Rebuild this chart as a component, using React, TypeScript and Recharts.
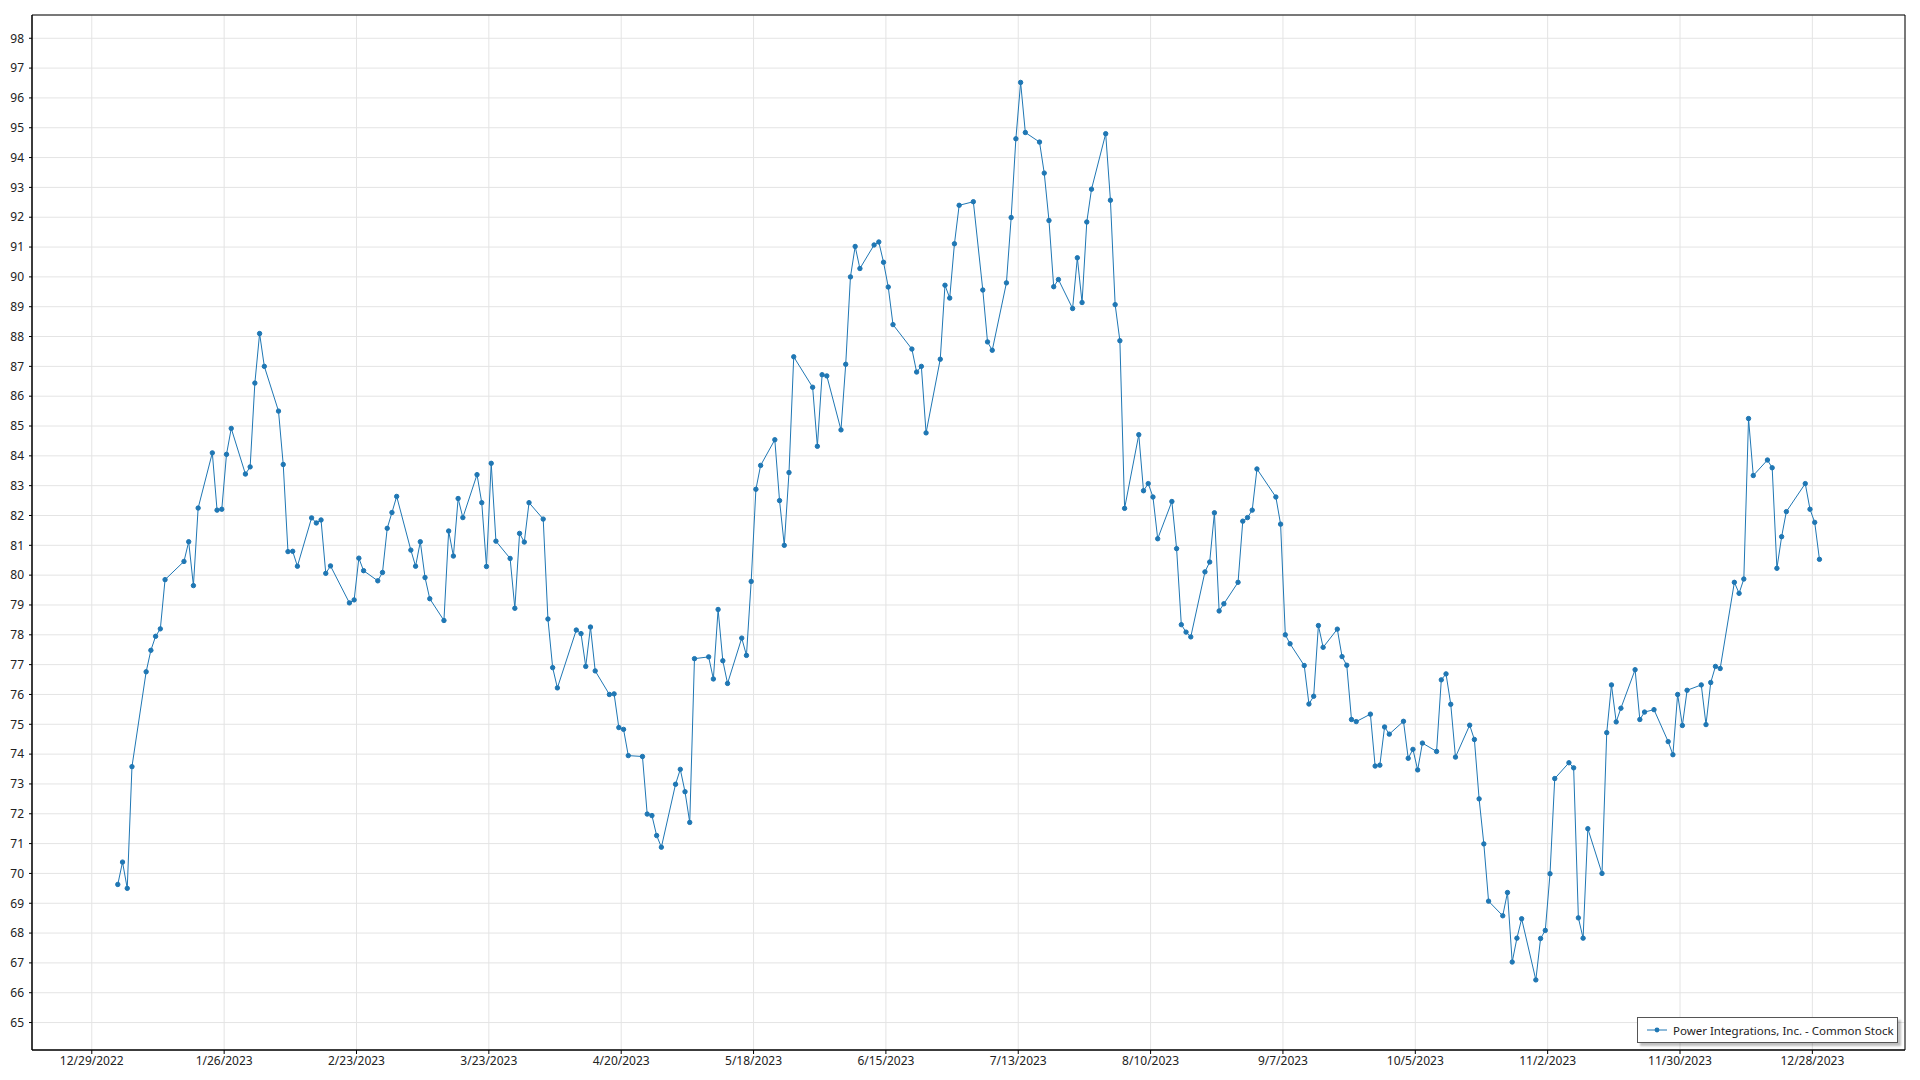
import { LineChart, Line, XAxis, YAxis, CartesianGrid, ReferenceArea } from 'recharts'

// trading days of 2023 (M/D) and closing prices
const dates = [
  '1/3','1/4','1/5','1/6','1/9','1/10','1/11','1/12','1/13','1/17','1/18','1/19','1/20','1/23','1/24','1/25','1/26','1/27','1/30','1/31',
  '2/1','2/2','2/3','2/6','2/7','2/8','2/9','2/10','2/13','2/14','2/15','2/16','2/17','2/21','2/22','2/23','2/24','2/27','2/28',
  '3/1','3/2','3/3','3/6','3/7','3/8','3/9','3/10','3/13','3/14','3/15','3/16','3/17','3/20','3/21','3/22','3/23','3/24','3/27','3/28','3/29','3/30','3/31',
  '4/3','4/4','4/5','4/6','4/10','4/11','4/12','4/13','4/14','4/17','4/18','4/19','4/20','4/21','4/24','4/25','4/26','4/27','4/28',
  '5/1','5/2','5/3','5/4','5/5','5/8','5/9','5/10','5/11','5/12','5/15','5/16','5/17','5/18','5/19','5/22','5/23','5/24','5/25','5/26','5/30','5/31',
  '6/1','6/2','6/5','6/6','6/7','6/8','6/9','6/12','6/13','6/14','6/15','6/16','6/20','6/21','6/22','6/23','6/26','6/27','6/28','6/29','6/30',
  '7/3','7/5','7/6','7/7','7/10','7/11','7/12','7/13','7/14','7/17','7/18','7/19','7/20','7/21','7/24','7/25','7/26','7/27','7/28','7/31',
  '8/1','8/2','8/3','8/4','8/7','8/8','8/9','8/10','8/11','8/14','8/15','8/16','8/17','8/18','8/21','8/22','8/23','8/24','8/25','8/28','8/29','8/30','8/31',
  '9/1','9/5','9/6','9/7','9/8','9/11','9/12','9/13','9/14','9/15','9/18','9/19','9/20','9/21','9/22','9/25','9/26','9/27','9/28','9/29',
  '10/2','10/3','10/4','10/5','10/6','10/9','10/10','10/11','10/12','10/13','10/16','10/17','10/18','10/19','10/20','10/23','10/24','10/25','10/26','10/27','10/30','10/31',
  '11/1','11/2','11/3','11/6','11/7','11/8','11/9','11/10','11/13','11/14','11/15','11/16','11/17','11/20','11/21','11/22','11/24','11/27','11/28','11/29','11/30',
  '12/1','12/4','12/5','12/6','12/7','12/8','12/11','12/12','12/13','12/14','12/15','12/18','12/19','12/20','12/21','12/22','12/26','12/27','12/28','12/29',
]

const prices = [
  69.63, 70.38, 69.5, 73.58, 76.76, 77.48, 77.95, 78.2, 79.85, 80.46, 81.12, 79.65, 82.25, 84.1, 82.18, 82.21, 84.05, 84.92, 83.39, 83.63,
  86.44, 88.1, 87.0, 85.5, 83.71, 80.79, 80.8, 80.3, 81.92, 81.75, 81.85, 80.06, 80.31, 79.07, 79.17, 80.57, 80.15, 79.81, 80.09,
  81.57, 82.1, 82.64, 80.84, 80.3, 81.12, 79.92, 79.21, 78.48, 81.48, 80.64, 82.57, 81.93, 83.37, 82.43, 80.29, 83.75, 81.14, 80.56, 78.89, 81.4, 81.11, 82.43,
  81.88, 78.53, 76.9, 76.22, 78.16, 78.04, 76.94, 78.26, 76.79, 76.0, 76.02, 74.89, 74.83, 73.95, 73.92, 71.99, 71.94, 71.27, 70.88,
  72.99, 73.49, 72.74, 71.71, 77.2, 77.26, 76.52, 78.85, 77.13, 76.37, 77.89, 77.31, 79.79, 82.88, 83.68, 84.54, 82.5, 81.0, 83.44, 87.32, 86.3, 84.32,
  86.72, 86.68, 84.87, 87.07, 90.0, 91.02, 90.28, 91.07, 91.17, 90.49, 89.66, 88.4, 87.58, 86.81, 87.0, 84.77, 87.24, 89.72, 89.29, 91.11, 92.4,
  92.52, 89.56, 87.82, 87.54, 89.8, 91.99, 94.63, 96.52, 94.84, 94.52, 93.48, 91.89, 89.67, 89.91, 88.94, 90.64, 89.14, 91.84, 92.94, 94.8,
  92.57, 89.07, 87.86, 82.24, 84.71, 82.83, 83.07, 82.62, 81.22, 82.47, 80.89, 78.34, 78.09, 77.93, 80.11, 80.44, 82.09, 78.8, 79.04, 79.76, 81.81, 81.93, 82.18,
  83.56, 82.62, 81.71, 78.0, 77.7, 76.97, 75.68, 75.94, 78.31, 77.58, 78.19, 77.27, 76.98, 75.16, 75.09, 75.34, 73.6, 73.63, 74.91, 74.67,
  75.1, 73.86, 74.16, 73.47, 74.37, 74.09, 76.49, 76.69, 75.67, 73.9, 74.97, 74.49, 72.5, 70.99, 69.07, 68.58, 69.36, 67.03, 67.83, 68.48, 66.43, 67.82,
  68.09, 69.99, 73.18, 73.71, 73.54, 68.51, 67.83, 71.5, 70.0, 74.72, 76.32, 75.08, 75.54, 76.83, 75.16, 75.41, 75.49, 74.42, 73.98, 76.0, 74.96,
  76.14, 76.32, 74.99, 76.4, 76.94, 76.87, 79.76, 79.39, 79.87, 85.25, 83.34, 83.86, 83.6, 80.23, 81.29, 82.13, 83.07, 82.21, 81.77, 80.53,
]

const xTickLabels = [
  '12/29/2022', '1/26/2023', '2/23/2023', '3/23/2023', '4/20/2023', '5/18/2023', '6/15/2023',
  '7/13/2023', '8/10/2023', '9/7/2023', '10/5/2023', '11/2/2023', '11/30/2023', '12/28/2023',
]

const yTicks = [65, 66, 67, 68, 69, 70, 71, 72, 73, 74, 75, 76, 77, 78, 79, 80, 81, 82, 83, 84, 85, 86, 87, 88, 89, 90, 91, 92, 93, 94, 95, 96, 97, 98]

const seriesName = 'Power Integrations, Inc. - Common Stock'
const BLUE = '#1f77b4'

// x is measured in days from 12/29/2022
const origin = Date.UTC(2022, 11, 29)
const toDay = (s: string) => {
  const [m, d, y] = s.split('/').map(Number)
  return (Date.UTC(y, m - 1, d) - origin) / 86400000
}

// closes plotted at midday
const data = dates.map((d, i) => ({ t: toDay(d + '/2023') + 0.5, price: prices[i] }))
const xTicks = xTickLabels.map(toDay)
const xDomain: [number, number] = [-12.65, 383.6]
const yDomain: [number, number] = [64.08, 98.78]

const tickStyle = { fill: '#222', fontSize: 12, fontFamily: '"Noto Sans", sans-serif' }

function LegendBox() {
  return (
    <div style={{
      position: 'absolute', left: 1629, top: 1009, width: 259, height: 24,
      background: '#fff', border: '1px solid #555', boxShadow: '3px 3px 2px rgba(0,0,0,0.25)',
      display: 'flex', alignItems: 'center', fontFamily: '"Noto Sans", sans-serif', fontSize: 11.5, color: '#222',
    }}>
      <svg width={22} height={10} style={{ marginLeft: 9, flexShrink: 0 }}>
        <line x1={0} y1={5} x2={20} y2={5} stroke={BLUE} strokeWidth={1} />
        <circle cx={10} cy={5} r={2.4} fill={BLUE} />
      </svg>
      <span style={{ marginLeft: 4, whiteSpace: 'nowrap' }}>{seriesName}</span>
    </div>
  )
}

export default function App() {
  return (
    <div style={{ position: 'relative', width: 1904, height: 1064 }}>
      <LineChart width={1904} height={1064} data={data} margin={{ top: 7, right: 7, bottom: 2, left: 0 }}>
        <CartesianGrid stroke="#e4e4e4" />
        <XAxis
          dataKey="t" type="number" domain={xDomain} allowDataOverflow ticks={xTicks} interval={0}
          tickFormatter={(v: number) => xTickLabels[xTicks.indexOf(v)] ?? ''}
          tick={tickStyle} tickSize={4} tickMargin={2} height={20}
          axisLine={{ stroke: '#000' }} tickLine={{ stroke: '#000' }}
        />
        <YAxis
          type="number" domain={yDomain} allowDataOverflow ticks={yTicks} interval={0}
          tick={tickStyle} tickSize={3} tickMargin={5} width={24}
          axisLine={{ stroke: '#000' }} tickLine={{ stroke: '#000' }}
        />
        <ReferenceArea x1={xDomain[0]} x2={xDomain[1]} y1={yDomain[0]} y2={yDomain[1]} fill="none" stroke="#000" strokeWidth={1} />
        <Line
          type="linear" dataKey="price" name={seriesName} stroke={BLUE} strokeWidth={1}
          dot={{ r: 2.2, fill: BLUE, stroke: BLUE, strokeWidth: 1 }} activeDot={false} isAnimationActive={false}
        />
      </LineChart>
      <LegendBox />
    </div>
  )
}
